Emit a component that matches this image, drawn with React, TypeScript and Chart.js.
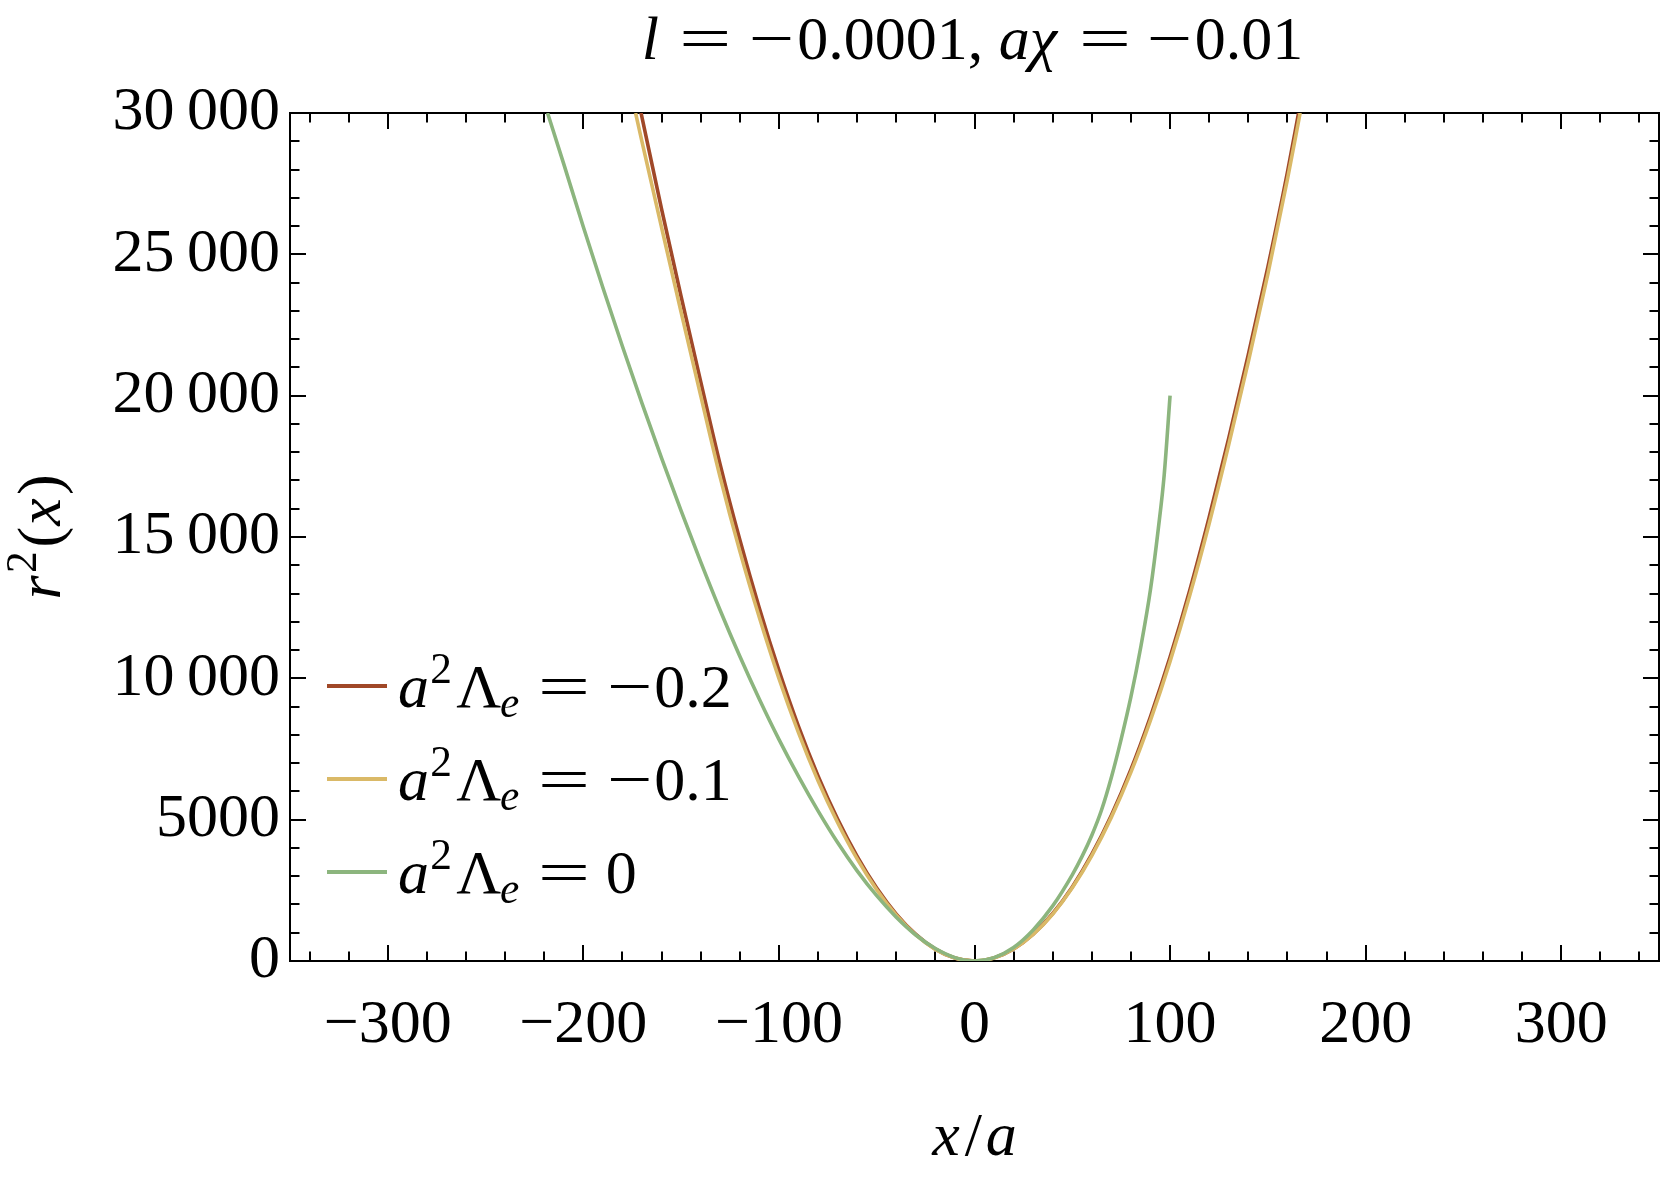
import React, { useEffect, useRef } from 'react';
import { Chart, registerables } from 'chart.js';

Chart.register(...registerables);

const FONT = '"Liberation Serif", "Times New Roman", serif';

// ---- data: x/a values and r^2(x) values ----
const redX = [-170.5, -160, -150, -140, -130, -120, -110, -100, -90, -80, -70, -60, -50, -40, -30, -20, -10, 0, 10, 20, 30, 40, 50, 60, 70, 80, 90, 100, 110, 120, 130, 140, 150, 160, 165.7];
const redY = [30000, 26600, 23500, 20500, 17550, 14900, 12480, 10280, 8300, 6550, 5020, 3700, 2580, 1660, 940, 420, 106, 0, 110, 430, 950, 1680, 2620, 3780, 5160, 6780, 8650, 10750, 13100, 15700, 18500, 21450, 24550, 27900, 30000];

const yellowX = [-173.3, -170, -160, -150, -140, -130, -120, -110, -100, -90, -80, -70, -60, -50, -40, -30, -20, -10, 0, 10, 20, 30, 40, 50, 60, 70, 80, 90, 100, 110, 120, 130, 140, 150, 160, 166.5];
const yellowY = [30000, 28980, 25950, 22950, 20000, 17100, 14500, 12150, 10000, 8080, 6380, 4900, 3610, 2520, 1620, 920, 410, 104, 0, 108, 425, 940, 1660, 2590, 3730, 5090, 6680, 8520, 10600, 12920, 15480, 18270, 21200, 24300, 27650, 30000];

const greenX = [-218.3, -210, -200, -190, -180, -170, -160, -150, -140, -130, -120, -110, -100, -90, -80, -70, -60, -50, -40, -30, -20, -10, 0, 10, 20, 30, 40, 50, 55, 60, 65, 70, 75, 80, 85, 90, 94, 97, 100];
const greenY = [30000, 28190, 25970, 23820, 21740, 19730, 17790, 15920, 14120, 12400, 10780, 9260, 7840, 6530, 5310, 4190, 3190, 2310, 1550, 920, 440, 120, 0, 120, 480, 1100, 1950, 3050, 3700, 4450, 5350, 6500, 7850, 9350, 11100, 13150, 15300, 17200, 20000];

const seriesValues = ['\u22120.2', '\u22120.1', '0'];

// ---- axes ----
const xRange = [-350, 350];
const yRange = [0, 30000];
const xMajorTicks = [-300, -200, -100, 0, 100, 200, 300];
const xTickLabels = ['\u2212300', '\u2212200', '\u2212100', '0', '100', '200', '300'];
const xMinorTicks = [-340, -320, -280, -260, -240, -220, -180, -160, -140, -120, -80, -60, -40, -20, 20, 40, 60, 80, 120, 140, 160, 180, 220, 240, 260, 280, 320, 340];
const yMajorTicks = [0, 5000, 10000, 15000, 20000, 25000, 30000];
const yTickLabels = ['0', '5000', '10\u2009000', '15\u2009000', '20\u2009000', '25\u2009000', '30\u2009000'];
const yMinorTicks = [1000, 2000, 3000, 4000, 6000, 7000, 8000, 9000, 11000, 12000, 13000, 14000, 16000, 17000, 18000, 19000, 21000, 22000, 23000, 24000, 26000, 27000, 28000, 29000];

const RED = '#A04828';
const YELLOW = '#DAB967';
const GREEN = '#8CB57E';
const seriesColors = [RED, YELLOW, GREEN];

type Seg = { t: string; it?: boolean; s?: number; dy?: number; gap?: number; sx?: number };

function fontOf(g: Seg, size: number) {
  return `${g.it ? 'italic ' : ''}${Math.round(size * (g.s ?? 1) * 10) / 10}px ${FONT}`;
}

function drawRich(ctx: CanvasRenderingContext2D, segs: Seg[], x: number, y: number, size: number, align: 'left' | 'center') {
  ctx.textBaseline = 'alphabetic';
  ctx.textAlign = 'left';
  let w = 0;
  for (const g of segs) {
    ctx.font = fontOf(g, size);
    w += (g.gap ?? 0) * size + ctx.measureText(g.t).width * (g.sx ?? 1);
  }
  let cx = align === 'center' ? x - w / 2 : x;
  for (const g of segs) {
    ctx.font = fontOf(g, size);
    cx += (g.gap ?? 0) * size;
    const sx = g.sx ?? 1;
    ctx.save();
    ctx.translate(cx, y + (g.dy ?? 0) * size);
    ctx.scale(sx, 1);
    ctx.fillText(g.t, 0, 0);
    ctx.restore();
    cx += ctx.measureText(g.t).width * sx;
  }
}

function valueSegs(v: string): Seg[] {
  if (v.startsWith('\u2212')) {
    return [
      { t: '\u2212', sx: 1.3, gap: 0.27 },
      { t: v.slice(1), gap: 0.03 },
    ];
  }
  return [{ t: v, gap: 0.25 }];
}

const framePlugin = {
  id: 'frameTicks',
  beforeDatasetsDraw(chart: any) {
    const { ctx, chartArea: a, scales } = chart;
    const xs = scales.x;
    const ys = scales.y;
    ctx.save();
    ctx.strokeStyle = '#000';
    ctx.lineWidth = 2;
    ctx.lineCap = 'butt';
    const xt = (vals: number[], len: number) => {
      for (const v of vals) {
        const p = Math.round(xs.getPixelForValue(v));
        ctx.beginPath();
        ctx.moveTo(p, a.bottom);
        ctx.lineTo(p, a.bottom - len);
        ctx.moveTo(p, a.top);
        ctx.lineTo(p, a.top + len);
        ctx.stroke();
      }
    };
    const yt = (vals: number[], len: number) => {
      for (const v of vals) {
        const p = Math.round(ys.getPixelForValue(v));
        ctx.beginPath();
        ctx.moveTo(a.left, p);
        ctx.lineTo(a.left + len, p);
        ctx.moveTo(a.right, p);
        ctx.lineTo(a.right - len, p);
        ctx.stroke();
      }
    };
    xt(xMajorTicks, 16);
    xt(xMinorTicks, 9.5);
    yt(yMajorTicks, 16);
    yt(yMinorTicks, 9.5);
    ctx.strokeRect(a.left, a.top, a.right - a.left, a.bottom - a.top);
    ctx.restore();
  },
};

const textPlugin = {
  id: 'mathText',
  afterDraw(chart: any) {
    const { ctx, chartArea: a } = chart;
    ctx.save();
    ctx.fillStyle = '#000';
    const S = 62;
    // title
    drawRich(ctx, [
      { t: 'l', it: true },
      { t: '=', sx: 1.5, gap: 0.32 },
      { t: '\u2212', sx: 1.3, gap: 0.28 },
      { t: '0.0001,', gap: 0.05 },
      { t: 'a\u03C7', it: true, gap: 0.25 },
      { t: '=', sx: 1.5, gap: 0.35 },
      { t: '\u2212', sx: 1.3, gap: 0.25 },
      { t: '0.01', gap: 0.04 },
    ], (a.left + a.right) / 2 - 2, 59, S, 'center');
    // x axis title
    drawRich(ctx, [
      { t: 'x', it: true },
      { t: '/', gap: 0.08 },
      { t: 'a', it: true, gap: 0.06 },
    ], (a.left + a.right) / 2, 1155, S, 'center');
    // y axis title (rotated)
    ctx.save();
    ctx.translate(60, (a.top + a.bottom) / 2);
    ctx.rotate(-Math.PI / 2);
    drawRich(ctx, [
      { t: 'r', it: true },
      { t: '2', s: 0.7, dy: -0.39, gap: 0.04 },
      { t: '(', gap: 0.06 },
      { t: 'x', it: true, gap: 0.02 },
      { t: ')', gap: 0.05 },
    ], 0, 0, S, 'center');
    ctx.restore();
    // legend
    const rowsFromBottom = [254, 161, 68];
    for (let i = 0; i < seriesValues.length; i++) {
      const base = a.bottom - rowsFromBottom[i];
      ctx.strokeStyle = seriesColors[i];
      ctx.lineWidth = 4;
      ctx.beginPath();
      ctx.moveTo(a.left + 37, base - 21);
      ctx.lineTo(a.left + 97, base - 21);
      ctx.stroke();
      drawRich(ctx, [
        { t: 'a', it: true },
        { t: '2', s: 0.7, dy: -0.39, gap: 0.02 },
        { t: '\u039B', gap: 0.07 },
        { t: 'e', it: true, s: 0.7, dy: 0.16, gap: -0.02 },
        { t: '=', sx: 1.5, gap: 0.3 },
        ...valueSegs(seriesValues[i]),
      ], a.left + 108, base, S, 'left');
    }
    ctx.restore();
  },
};

function pts(xs: number[], ys: number[]) {
  return xs.map((x, i) => ({ x, y: ys[i] }));
}

export default function App() {
  const ref = useRef<HTMLCanvasElement>(null);
  useEffect(() => {
    const canvas = ref.current!;
    const common = {
      pointRadius: 0,
      borderWidth: 3.6,
      fill: false,
      cubicInterpolationMode: 'monotone' as const,
    };
    const chart = new Chart(canvas, {
      type: 'line',
      data: {
        datasets: [
          { ...common, label: 'a\u00B2\u039B\u2091 = ' + seriesValues[0], data: pts(redX, redY), borderColor: RED, order: 2 },
          { ...common, label: 'a\u00B2\u039B\u2091 = ' + seriesValues[1], data: pts(yellowX, yellowY), borderColor: YELLOW, order: 1 },
          { ...common, label: 'a\u00B2\u039B\u2091 = ' + seriesValues[2], data: pts(greenX, greenY), borderColor: GREEN, order: 0 },
        ],
      },
      options: {
        responsive: false,
        animation: false,
        devicePixelRatio: 1,
        layout: { padding: { top: 113, right: 2, left: 0, bottom: 0 } },
        plugins: {
          legend: { display: false },
          tooltip: { enabled: false },
          title: { display: false },
        },
        scales: {
          x: {
            type: 'linear',
            min: xRange[0],
            max: xRange[1],
            position: 'bottom',
            grid: { display: false, drawTicks: false },
            border: { display: false },
            afterBuildTicks: (s: any) => {
              s.ticks = xMajorTicks.map((v) => ({ value: v }));
            },
            afterFit: (s: any) => {
              s.height = 225;
            },
            ticks: {
              autoSkip: false,
              maxRotation: 0,
              padding: 28,
              color: '#000',
              font: { family: FONT, size: 62 },
              callback: (v: any) => xTickLabels[xMajorTicks.indexOf(Number(v))] ?? '',
            },
          },
          y: {
            type: 'linear',
            min: yRange[0],
            max: yRange[1],
            position: 'left',
            grid: { display: false, drawTicks: false },
            border: { display: false },
            afterBuildTicks: (s: any) => {
              s.ticks = yMajorTicks.map((v) => ({ value: v }));
            },
            afterFit: (s: any) => {
              s.width = 290;
            },
            ticks: {
              autoSkip: false,
              padding: 10,
              color: '#000',
              font: { family: FONT, size: 62 },
              callback: (v: any) => yTickLabels[yMajorTicks.indexOf(Number(v))] ?? '',
            },
          },
        },
      },
      plugins: [framePlugin, textPlugin],
    } as any);
    return () => chart.destroy();
  }, []);
  return (
    <div style={{ position: 'absolute', left: 0, top: 0, width: 1661, height: 1186, background: '#fff' }}>
      <canvas ref={ref} width={1661} height={1186} style={{ width: 1661, height: 1186, display: 'block' }} />
    </div>
  );
}
